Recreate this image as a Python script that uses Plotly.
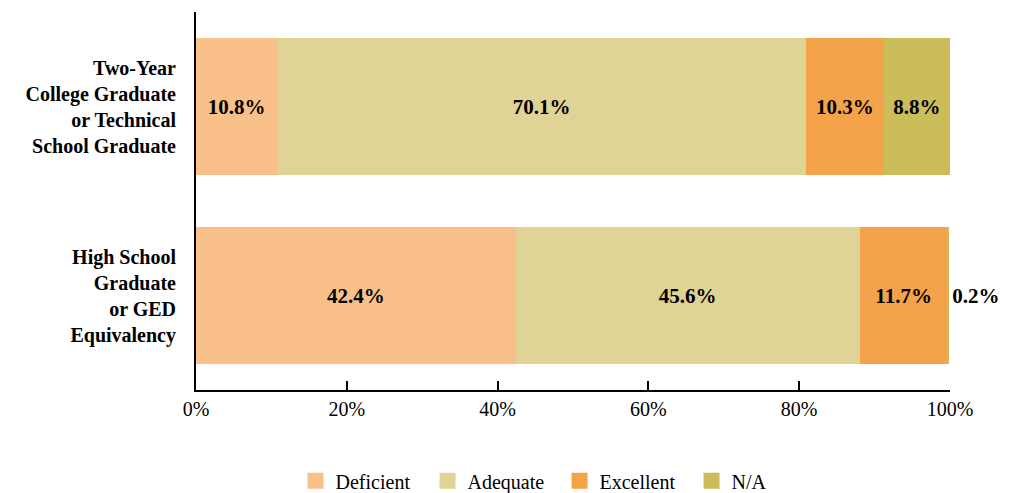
import plotly.graph_objects as go

categories = ["High School<br>Graduate<br>or GED<br>Equivalency",
              "Two-Year<br>College Graduate<br>or Technical<br>School Graduate"]
series_names = ["Deficient", "Adequate", "Excellent", "N/A"]
deficient = [42.4, 10.8]
adequate = [45.6, 70.1]
excellent = [11.7, 10.3]
na = [0.2, 8.8]
colors = ["#F9C189", "#DFD395", "#F5A34A", "#CBBD5A"]
tick_vals = [0, 20, 40, 60, 80, 100]
tick_text = ["0%", "20%", "40%", "60%", "80%", "100%"]

FONT = "Liberation Serif, DejaVu Serif, serif"
fig = go.Figure()
for name, vals, col in zip(series_names, [deficient, adequate, excellent, na], colors):
    tpos = ["outside", "inside"] if name == "N/A" else "inside"
    fig.add_trace(go.Bar(
        y=categories, x=vals, name=name, orientation="h",
        marker=dict(color=col, line=dict(width=0)),
        text=[f"{v:.1f}%" for v in vals],
        textposition=tpos, insidetextanchor="middle",
        textfont=dict(family=FONT, size=21, color="black", weight="bold"),
        cliponaxis=False, width=0.72, showlegend=False,
    ))
    # legend entry with a square swatch
    fig.add_trace(go.Scatter(
        y=[None], x=[None], name=name, mode="markers",
        marker=dict(symbol="square", size=18, color=col),
        showlegend=True,
    ))

fig.update_layout(
    barmode="stack",
    width=1013, height=493,
    margin=dict(l=196, r=63, t=12, b=103, autoexpand=False),
    plot_bgcolor="white", paper_bgcolor="white",
    font=dict(family=FONT, size=19, color="black"),
    uniformtext=dict(minsize=21, mode="show"),
    legend=dict(orientation="h", x=0.132, xanchor="left", y=-0.24, yanchor="middle",
                entrywidth=87, entrywidthmode="pixels",
                font=dict(family=FONT, size=20), traceorder="normal"),
    showlegend=True,
)
fig.update_xaxes(range=[0, 100], tickvals=tick_vals, ticktext=tick_text,
                 showgrid=False, zeroline=False, showline=True, linecolor="black", linewidth=2,
                 ticks="inside", ticklen=9, tickwidth=2, tickcolor="black",
                 tickfont=dict(family=FONT, size=20))
fig.update_yaxes(range=[-0.5, 1.5], showgrid=False, zeroline=False, showline=True,
                 linecolor="black", linewidth=2, ticks="", ticklabelstandoff=14,
                 tickfont=dict(family=FONT, size=20, weight="bold"))

fig.write_html("out.html")
